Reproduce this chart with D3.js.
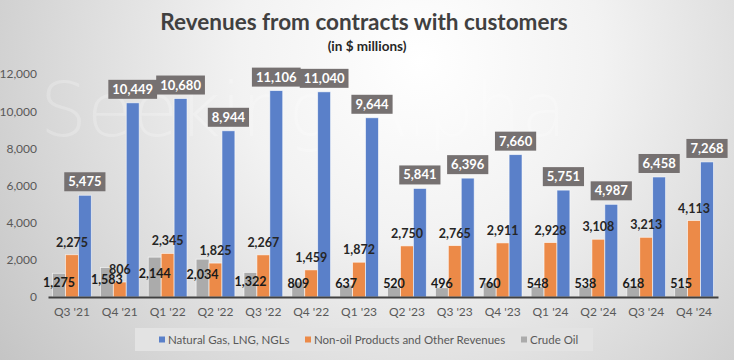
<!DOCTYPE html>
<html><head><meta charset="utf-8">
<script src="https://cdn.jsdelivr.net/npm/d3@7"></script>
<style>html,body{margin:0;padding:0;background:#fff}svg{display:block}</style>
</head><body><svg id="c" width="734" height="360"></svg>
<script>
const categories = ["Q3 '21","Q4 '21","Q1 '22","Q2 '22","Q3 '22","Q4 '22","Q1 '23","Q2 '23","Q3 '23","Q4 '23","Q1 '24","Q2 '24","Q3 '24","Q4 '24"];
const naturalGas = [5475,10449,10680,8944,11106,11040,9644,5841,6396,7660,5751,4987,6458,7268];
const nonOil = [2275,806,2345,1825,2267,1459,1872,2750,2765,2911,2928,3108,3213,4113];
const crudeOil = [1275,1583,2144,2034,1322,809,637,520,496,760,548,538,618,515];
const yTicks = [0,2000,4000,6000,8000,10000,12000];
const seriesNames = ["Natural Gas, LNG, NGLs","Non-oil Products and Other Revenues","Crude Oil"];
const colors = {"Natural Gas, LNG, NGLs":"#5A80C9","Non-oil Products and Other Revenues":"#EC8A48","Crude Oil":"#ABABAB"};

const svg = d3.select("#c");
const W = 734, H = 360;
const defs = svg.append("defs");
const rg = defs.append("radialGradient").attr("id","bg").attr("gradientUnits","userSpaceOnUse")
  .attr("cx",420).attr("cy",60).attr("r",520);
rg.append("stop").attr("offset","0").attr("stop-color","#ffffff");
rg.append("stop").attr("offset","0.35").attr("stop-color","#f2f2f2");
rg.append("stop").attr("offset","1").attr("stop-color","#c4c4c4");
svg.append("rect").attr("width",W).attr("height",H).attr("fill","url(#bg)");

// faint watermark
svg.append("text").attr("x",40).attr("y",136).attr("font-family","'DejaVu Sans'").attr("font-weight",200)
  .attr("font-size",74).attr("fill","#ffffff").attr("opacity",0.22).text("Seeking Alpha");

const font = "Lato, 'Open Sans', sans-serif";
svg.append("text").attr("x",364).attr("y",30).attr("text-anchor","middle").attr("font-family",font)
  .attr("font-weight",700).attr("font-size",22.5).attr("fill","#404040").text("Revenues from contracts with customers");
svg.append("text").attr("x",367).attr("y",51).attr("text-anchor","middle").attr("font-family",font)
  .attr("font-weight",700).attr("font-size",13.5).attr("fill","#262626").text("(in $ millions)");

const x = d3.scaleBand().domain(categories).range([48,718]).paddingInner(0.19).paddingOuter(0.095);
const order = ["Crude Oil","Non-oil Products and Other Revenues","Natural Gas, LNG, NGLs"];
const x1 = d3.scaleBand().domain(order).range([0,x.bandwidth()]);
const y = d3.scaleLinear().domain([0,12000]).range([297,74]);
const dataBy = {"Natural Gas, LNG, NGLs":naturalGas,"Non-oil Products and Other Revenues":nonOil,"Crude Oil":crudeOil};
const fmt = d3.format(",");

// y axis
const ya = svg.append("g").attr("transform","translate(37,0)")
  .call(d3.axisLeft(y).tickValues(yTicks).tickFormat(fmt).tickSize(0).tickPadding(0));
ya.select(".domain").remove();
ya.selectAll("text").attr("font-family",font).attr("font-size",12).attr("fill","#595959");

// bars
order.forEach(s => {
  svg.append("g").selectAll("rect").data(categories).join("rect")
    .attr("x", c => x(c) + x1(s))
    .attr("width", x1.bandwidth())
    .attr("y", (c,i) => y(dataBy[s][i]))
    .attr("height", (c,i) => y(0) - y(dataBy[s][i]))
    .attr("fill", colors[s]).attr("stroke","#ffffff").attr("stroke-opacity",0.7).attr("stroke-width",0.8);
});

// x axis
const xa = svg.append("g").attr("transform","translate(0,297)")
  .call(d3.axisBottom(x).tickSize(0).tickPadding(10));
xa.select(".domain").attr("stroke","#404040").attr("stroke-width",2.2);
xa.selectAll("text").attr("font-family",font).attr("font-size",12).attr("fill","#595959");

// crude oil labels
svg.append("g").selectAll("text").data(categories).join("text")
  .attr("x", c => x(c) + x1("Crude Oil") + x1.bandwidth()/2)
  .attr("y", (c,i) => Math.min(y(crudeOil[i]/2) - 3, 284))
  .attr("dy","0.35em").attr("text-anchor","middle").attr("font-family",font).attr("font-weight",700)
  .attr("font-size",12.5).attr("fill","#1a1a1a").text((c,i) => fmt(crudeOil[i]));

// non-oil labels
svg.append("g").selectAll("text").data(categories).join("text")
  .attr("x", c => x(c) + x1("Non-oil Products and Other Revenues") + x1.bandwidth()/2)
  .attr("y", (c,i) => y(nonOil[i]) - 8)
  .attr("text-anchor","middle").attr("font-family",font).attr("font-weight",700)
  .attr("font-size",12.5).attr("fill","#262626").text((c,i) => fmt(nonOil[i]));

// natural gas labels in boxes
const ng = svg.append("g").selectAll("g").data(categories).join("g")
  .attr("transform",(c,i) => `translate(${x(c) + x1("Natural Gas, LNG, NGLs") + x1.bandwidth()/2},${y(naturalGas[i]) - 4})`);
ng.append("text").attr("text-anchor","middle").attr("y",-5).attr("font-family",font).attr("font-weight",700)
  .attr("font-size",13).attr("fill","#ffffff").text((c,i) => fmt(naturalGas[i]));
ng.each(function(){
  const g = d3.select(this); const t = g.select("text"); const w = t.node().getComputedTextLength();
  g.insert("rect","text").attr("x",-w/2-4).attr("y",-19).attr("width",w+8).attr("height",19).attr("fill","#767171");
});

// legend
const lg = svg.append("g");
lg.append("rect").attr("x",135).attr("y",328).attr("width",458).attr("height",23).attr("fill","#e3e3e3");
const legX = [159,305,521];
seriesNames.forEach((s,i) => {
  lg.append("rect").attr("x",legX[i]).attr("y",336.5).attr("width",6).attr("height",6).attr("fill",colors[s]);
  lg.append("text").attr("x",legX[i]+9).attr("y",339.5).attr("dy","0.35em").attr("font-family",font)
    .attr("font-size",11.5).attr("fill","#595959").text(s);
});
</script></body></html>
